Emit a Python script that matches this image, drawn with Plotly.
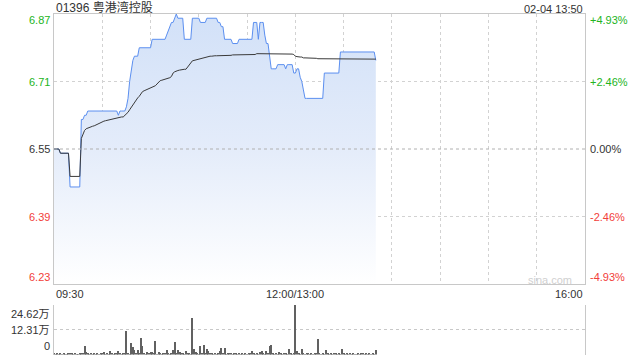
import plotly.graph_objects as go

# ---------------- data (per trading minute from 09:30) ----------------
price = [
    6.55, 6.55, 6.55, 6.55, 6.54, 6.54, 6.54, 6.54, 6.54, 6.54,
    6.46, 6.46, 6.46, 6.46, 6.46, 6.46, 6.46, 6.62, 6.62, 6.63,
    6.63, 6.64, 6.64, 6.64, 6.64, 6.64, 6.64, 6.64, 6.64, 6.64,
    6.64, 6.64, 6.64, 6.64, 6.64, 6.64, 6.64, 6.64, 6.64, 6.64,
    6.63, 6.64, 6.64, 6.64, 6.64, 6.65, 6.67, 6.71, 6.74, 6.76,
    6.77, 6.77, 6.77, 6.79, 6.79, 6.79, 6.79, 6.79, 6.79, 6.79,
    6.79, 6.81, 6.81, 6.81, 6.81, 6.81, 6.81, 6.81, 6.81, 6.81,
    6.82, 6.83, 6.84, 6.85, 6.85, 6.86, 6.87, 6.86, 6.86, 6.86,
    6.86, 6.81, 6.81, 6.81, 6.81, 6.81, 6.86, 6.86, 6.86, 6.86,
    6.86, 6.85, 6.85, 6.85, 6.85, 6.86, 6.86, 6.86, 6.86, 6.86,
    6.86, 6.86, 6.85, 6.85, 6.84, 6.84, 6.81, 6.81, 6.81, 6.81,
    6.81, 6.80, 6.80, 6.80, 6.80, 6.81, 6.81, 6.81, 6.81, 6.81,
    6.81, 6.81, 6.81, 6.81, 6.85, 6.85, 6.85, 6.81, 6.85, 6.85,
    6.85, 6.82, 6.80, 6.80, 6.77, 6.74, 6.74, 6.74, 6.74, 6.75,
    6.75, 6.75, 6.75, 6.75, 6.74, 6.75, 6.75, 6.75, 6.75, 6.73,
    6.73, 6.74, 6.74, 6.72, 6.71, 6.69, 6.67, 6.67, 6.67, 6.67,
    6.67, 6.67, 6.67, 6.67, 6.67, 6.67, 6.67, 6.67, 6.73, 6.73,
    6.73, 6.73, 6.73, 6.73, 6.73, 6.73, 6.73, 6.73, 6.78, 6.78,
    6.78, 6.78, 6.78, 6.78, 6.78, 6.78, 6.78, 6.78, 6.78, 6.78,
    6.78, 6.78, 6.78, 6.78, 6.78, 6.78, 6.78, 6.78, 6.78, 6.78,
    6.76,
]

avg_price = [
    6.550, 6.550, 6.550, 6.550, 6.540, 6.540, 6.540, 6.540, 6.540, 6.540,
    6.485, 6.485, 6.485, 6.485, 6.485, 6.485, 6.485, 6.575, 6.585, 6.594,
    6.598, 6.600, 6.602, 6.603, 6.604, 6.605, 6.607, 6.609, 6.610, 6.612,
    6.614, 6.616, 6.617, 6.618, 6.619, 6.620, 6.621, 6.622, 6.623, 6.624,
    6.625, 6.625, 6.626, 6.626, 6.629, 6.632, 6.637, 6.643, 6.649, 6.655,
    6.660, 6.667, 6.671, 6.675, 6.680, 6.686, 6.688, 6.690, 6.692, 6.693,
    6.694, 6.696, 6.698, 6.700, 6.704, 6.709, 6.712, 6.713, 6.714, 6.715,
    6.716, 6.717, 6.719, 6.722, 6.730, 6.733, 6.735, 6.736, 6.737, 6.738,
    6.738, 6.739, 6.739, 6.744, 6.750, 6.756, 6.759, 6.760, 6.761, 6.762,
    6.763, 6.764, 6.766, 6.767, 6.768, 6.769, 6.770, 6.770, 6.770, 6.771,
    6.771, 6.771, 6.771, 6.771, 6.771, 6.771, 6.772, 6.772, 6.772, 6.772,
    6.772, 6.773, 6.773, 6.773, 6.773, 6.773, 6.773, 6.773, 6.773, 6.774,
    6.774, 6.774, 6.774, 6.774, 6.774, 6.774, 6.776, 6.776, 6.776, 6.776,
    6.776, 6.776, 6.776, 6.776, 6.776, 6.776, 6.776, 6.776, 6.776, 6.776,
    6.776, 6.775, 6.775, 6.775, 6.775, 6.775, 6.775, 6.775, 6.775, 6.774,
    6.770, 6.769, 6.768, 6.768, 6.768, 6.766, 6.766, 6.766, 6.765, 6.765,
    6.765, 6.765, 6.765, 6.765, 6.764, 6.764, 6.764, 6.764, 6.764, 6.763,
    6.763, 6.763, 6.763, 6.763, 6.763, 6.763, 6.763, 6.763, 6.763, 6.763,
    6.763, 6.763, 6.763, 6.763, 6.763, 6.763, 6.763, 6.763, 6.763, 6.763,
    6.763, 6.763, 6.763, 6.763, 6.763, 6.763, 6.763, 6.763, 6.763, 6.763,
    6.763,
]

volume = [
    4000, 2000, 3000, 2500, 3500, 2000, 3000, 2500, 2000, 3000,
    3500, 3000, 2500, 3000, 2000, 2500, 3000, 4000, 3000, 41500,
    10000, 3000, 2500, 3000, 2000, 3500, 2500, 3000, 2000, 4000,
    3000, 10000, 2500, 3500, 2000, 16500, 3000, 2500, 6500, 3000,
    16500, 3000, 2500, 4000, 3500, 117000, 3000, 2500, 58000, 35000,
    20000, 3000, 21500, 3500, 80000, 41500, 3000, 2500, 11500, 3000,
    10000, 13500, 3000, 67500, 2500, 13500, 3000, 2000, 3500, 3000,
    21500, 3000, 2500, 3000, 21500, 62500, 3000, 21500, 11500, 8500,
    3000, 2500, 16500, 3000, 3500, 2500, 182000, 25000, 11500, 3000,
    2500, 41500, 3000, 46500, 3000, 25000, 16500, 5000, 3000, 2500,
    3000, 2000, 3500, 16500, 31500, 3000, 31500, 2500, 8500, 3000,
    8500, 2500, 8500, 3000, 2000, 3500, 2500, 3000, 2000, 3000,
    2500, 3000, 3500, 16500, 3000, 2500, 3000, 2000, 11500, 16500,
    3000, 2500, 16500, 3000, 41500, 45000, 3000, 2500, 3000, 2000,
    11500, 3000, 2500, 3500, 3000, 2500, 25000, 3000, 2000, 3000,
    246200, 16500, 3000, 2500, 25000, 3000, 2500, 8500, 3000, 2000,
    3000, 2500, 3500, 3000, 75000, 3000, 2500, 3000, 2000, 21500,
    3000, 2500, 3000, 2000, 3500, 3000, 2500, 3000, 2000, 26500,
    3000, 2500, 3000, 2000, 3500, 2500, 3000, 2000, 2500, 3000,
    2500, 3000, 8500, 2000, 3000, 2500, 3500, 2000, 3000, 2500,
    21500,
]

minutes = list(range(len(price)))

prev_close = 6.55
price_ticks = [6.87, 6.71, 6.55, 6.39, 6.23]
pct_labels = ["+4.93%", "+2.46%", "0.00%", "-2.46%", "-4.93%"]
time_tick_pos = [0, 150, 330]
time_tick_labels = ["09:30", "12:00/13:00", "16:00"]
vol_ticks = [246200, 123100, 0]
vol_labels = ["24.62万", "12.31万", "0"]
title_text = "01396 粤港湾控股"
stamp_text = "02-04 13:50"

GREEN = "#22b422"
RED = "#f2403a"
DARK = "#333333"
GRID = "#d2d2d2"
BORDER = "#c8c8c8"
FONT = "Liberation Sans, Arial, Noto Sans CJK SC, sans-serif"

def label_color(v):
    if v > prev_close + 1e-9:
        return GREEN
    if v < prev_close - 1e-9:
        return RED
    return DARK

fig = go.Figure()

fig.add_trace(go.Scatter(
    x=minutes, y=price, mode="lines",
    line=dict(color="#5b8ff0", width=1),
    fill="tozeroy",
    fillgradient=dict(type="vertical", start=6.23, stop=6.87,
                      colorscale=[[0, "rgba(255,255,255,1)"],
                                  [0.5, "rgba(228,236,250,1)"],
                                  [1, "rgba(210,225,248,1)"]]),
    hoverinfo="skip", xaxis="x", yaxis="y"))

fig.add_trace(go.Scatter(
    x=minutes, y=avg_price, mode="lines",
    line=dict(color="#3a3a3a", width=1),
    hoverinfo="skip", xaxis="x", yaxis="y"))

fig.add_trace(go.Bar(
    x=minutes, y=volume, width=0.62,
    marker=dict(color="#616161", line=dict(width=0)),
    hoverinfo="skip", xaxis="x2", yaxis="y2"))

H = 360
t_m, b_m = 14, 5
area = H - t_m - b_m
main_bottom = (H - b_m - 284) / area
vol_top = (H - b_m - 305) / area
vol_bottom = (H - b_m - 354.5) / area

fig.update_layout(
    width=640, height=360,
    margin=dict(l=54, r=55, t=t_m, b=b_m),
    paper_bgcolor="white", plot_bgcolor="rgba(0,0,0,0)",
    showlegend=False,
    font=dict(family=FONT, size=11, color=DARK),
    bargap=0,
    xaxis=dict(domain=[0, 1], range=[0, 330], showgrid=True, gridcolor=GRID,
               griddash="dot", gridwidth=1, tick0=0, dtick=30,
               showticklabels=False, ticks="", zeroline=False,
               showline=True, linecolor=BORDER, linewidth=1, mirror=True,
               anchor="y"),
    yaxis=dict(domain=[main_bottom, 1], range=[6.23, 6.87],
               tickvals=[6.39, 6.71], showgrid=True, gridcolor=GRID,
               griddash="dot", gridwidth=1, showticklabels=False, ticks="",
               zeroline=False, showline=True, linecolor=BORDER, linewidth=1,
               mirror=True, anchor="x"),
    xaxis2=dict(domain=[0, 1], range=[0, 330], showgrid=False,
                showticklabels=False, ticks="", zeroline=False,
                showline=False, anchor="y2"),
    yaxis2=dict(domain=[vol_bottom, vol_top], range=[0, 246200],
                tickvals=vol_ticks, showgrid=True, gridcolor="#c8c8c8",
                griddash="dot", gridwidth=1, showticklabels=False, ticks="",
                zeroline=False, showline=True, linecolor=BORDER, linewidth=1,
                mirror=True, anchor="x2"),
)

# previous close line
fig.add_shape(type="line", xref="paper", x0=0, x1=1, yref="y",
              y0=prev_close, y1=prev_close,
              line=dict(color="#b0b0b0", width=1, dash="dot"))

ann = []
n = len(price_ticks)
for i, (v, pl) in enumerate(zip(price_ticks, pct_labels)):
    ya = "top" if i == 0 else ("bottom" if i == n - 1 else "middle")
    ysh = 2 if i == 0 else (-1 if i == n - 1 else 0)
    ann.append(dict(xref="paper", yref="y", x=0, y=v, xanchor="right",
                    yanchor=ya, yshift=ysh, xshift=-2, showarrow=False,
                    text=f"{v:.2f}", font=dict(size=11, color=label_color(v))))
    ann.append(dict(xref="paper", yref="y", x=1, y=v, xanchor="left",
                    yanchor=ya, yshift=ysh, xshift=3, showarrow=False,
                    text=pl, font=dict(size=11, color=label_color(v))))

anchors = ["left", "center", "right"]
for pos, lab, a in zip(time_tick_pos, time_tick_labels, anchors):
    ann.append(dict(xref="x", yref="y", x=pos, y=6.23, xanchor=a,
                    yanchor="top", yshift=-2, showarrow=False, text=lab,
                    font=dict(size=11, color=DARK)))

vanch = ["top", "middle", "bottom"]
for v, lab, a in zip(vol_ticks, vol_labels, vanch):
    ann.append(dict(xref="paper", yref="y2", x=0, y=v, xanchor="right",
                    yanchor=a, xshift=-2, yshift=(-1 if a == "top" else 1 if a == "bottom" else 0),
                    showarrow=False, text=lab, font=dict(size=11, color=DARK)))

ann.append(dict(xref="paper", yref="paper", x=0, y=1, xanchor="left",
                yanchor="bottom", yshift=-3, showarrow=False, text=title_text,
                font=dict(size=12, color=DARK)))
ann.append(dict(xref="paper", yref="paper", x=1, y=1, xanchor="right",
                yanchor="bottom", yshift=-3, showarrow=False, text=stamp_text,
                font=dict(size=11, color=DARK)))
ann.append(dict(xref="paper", yref="y", x=1, y=6.23, xanchor="right",
                yanchor="middle", xshift=-11, yshift=4, showarrow=False,
                text="sina.com", font=dict(size=11, color="#d0d0d0")))

fig.update_layout(annotations=ann)

fig.write_html("out.html")
